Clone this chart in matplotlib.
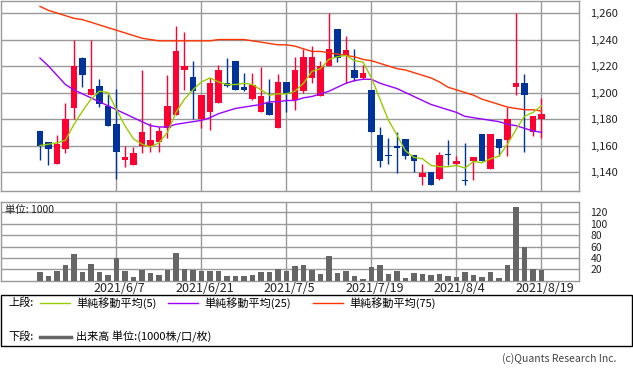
"""Daily candlestick chart with simple moving averages and volume."""
import numpy as np
import matplotlib
matplotlib.use("Agg")
import matplotlib.pyplot as plt
from matplotlib.patches import Rectangle
from matplotlib.ticker import FuncFormatter
from matplotlib.transforms import ScaledTranslation

plt.rcParams["font.family"] = ["Noto Sans CJK JP", "DejaVu Sans"]

# -------------------------------------------------------
# Data.
# -------------------------------------------------------
dates = [
    "2021/5/25", "2021/5/26", "2021/5/27", "2021/5/28", "2021/5/31",
    "2021/6/1", "2021/6/2", "2021/6/3", "2021/6/4", "2021/6/7",
    "2021/6/8", "2021/6/9", "2021/6/10", "2021/6/11", "2021/6/14",
    "2021/6/15", "2021/6/16", "2021/6/17", "2021/6/18", "2021/6/21",
    "2021/6/22", "2021/6/23", "2021/6/24", "2021/6/25", "2021/6/28",
    "2021/6/29", "2021/6/30", "2021/7/1", "2021/7/2", "2021/7/5",
    "2021/7/6", "2021/7/7", "2021/7/8", "2021/7/9", "2021/7/12",
    "2021/7/13", "2021/7/14", "2021/7/15", "2021/7/16", "2021/7/19",
    "2021/7/20", "2021/7/21", "2021/7/26", "2021/7/27", "2021/7/28",
    "2021/7/29", "2021/7/30", "2021/8/2", "2021/8/3", "2021/8/4",
    "2021/8/5", "2021/8/6", "2021/8/10", "2021/8/11", "2021/8/12",
    "2021/8/13", "2021/8/16", "2021/8/17", "2021/8/18", "2021/8/19",
    ]
opens = [
    1171, 1163, 1146, 1157, 1188, 1226, 1198, 1205, 1190, 1176,
    1149, 1145, 1160, 1160, 1163, 1173, 1183, 1217, 1212, 1180,
    1185, 1192, 1207, 1224, 1204, 1195, 1185, 1192, 1173, 1208,
    1194, 1201, 1211, 1197, 1220, 1248, 1228, 1217, 1211, 1202,
    1168, 1152, 1160, 1165, 1153, 1136, 1140, 1135, 1153, 1146,
    1134, 1148, 1169, 1142, 1165, 1164, 1204, 1207, 1170, 1180,
    ]
highs = [
    1171, 1163, 1168, 1192, 1240, 1227, 1240, 1210, 1199, 1203,
    1160, 1159, 1217, 1177, 1174, 1213, 1250, 1246, 1224, 1198,
    1211, 1221, 1226, 1224, 1215, 1215, 1219, 1210, 1214, 1208,
    1227, 1233, 1235, 1224, 1260, 1248, 1243, 1233, 1221, 1202,
    1174, 1166, 1170, 1165, 1153, 1146, 1140, 1155, 1164, 1152,
    1162, 1151, 1169, 1169, 1165, 1189, 1260, 1214, 1182, 1196,
    ]
lows = [
    1149, 1145, 1146, 1154, 1180, 1204, 1198, 1189, 1175, 1135,
    1144, 1145, 1154, 1155, 1155, 1166, 1183, 1202, 1180, 1173,
    1172, 1192, 1204, 1202, 1201, 1194, 1185, 1183, 1173, 1185,
    1187, 1200, 1207, 1197, 1220, 1223, 1207, 1209, 1210, 1170,
    1144, 1146, 1139, 1150, 1140, 1130, 1130, 1134, 1145, 1145,
    1130, 1134, 1148, 1142, 1152, 1152, 1198, 1155, 1167, 1166,
    ]
closes = [
    1160, 1157, 1161, 1180, 1220, 1213, 1203, 1191, 1175, 1155,
    1151, 1154, 1170, 1164, 1171, 1190, 1231, 1220, 1201, 1198,
    1207, 1217, 1205, 1202, 1202, 1206, 1197, 1183, 1208, 1199,
    1217, 1227, 1227, 1220, 1233, 1226, 1232, 1211, 1215, 1170,
    1148, 1152, 1158, 1152, 1148, 1139, 1130, 1153, 1153, 1148,
    1133, 1151, 1148, 1169, 1158, 1180, 1207, 1198, 1182, 1184,
    ]
ma5 = [
    1160, 1161, 1162, 1164, 1176, 1186, 1195, 1201, 1200, 1187,
    1175, 1165, 1161, 1159, 1162, 1170, 1185, 1195, 1202, 1208,
    1211, 1208, 1206, 1206, 1207, 1206, 1202, 1198, 1199, 1199,
    1201, 1207, 1216, 1218, 1225, 1227, 1228, 1224, 1223, 1211,
    1195, 1179, 1168, 1156, 1151, 1150, 1145, 1144, 1144, 1145,
    1143, 1148, 1147, 1150, 1152, 1161, 1172, 1182, 1185, 1190,
    ]
ma25 = [
    1226, 1220, 1213, 1206, 1202, 1199, 1196, 1193, 1190, 1187,
    1184, 1181, 1178, 1175, 1174, 1174, 1176, 1177, 1178, 1179,
    1181, 1184, 1186, 1188, 1189, 1190, 1191, 1193, 1193, 1194,
    1194, 1196, 1197, 1199, 1201, 1204, 1207, 1209, 1210, 1210,
    1207, 1205, 1203, 1200, 1197, 1194, 1191, 1189, 1187, 1185,
    1182, 1181, 1180, 1179, 1178, 1176, 1175, 1173, 1171, 1170,
    ]
ma75 = [
    1265, 1262, 1260, 1258, 1256, 1255, 1253, 1251, 1249, 1247,
    1245, 1243, 1241, 1240, 1239, 1239, 1239, 1239, 1239, 1239,
    1239, 1240, 1240, 1240, 1240, 1239, 1238, 1237, 1236, 1236,
    1235, 1233, 1231, 1231, 1230, 1229, 1228, 1227, 1225, 1224,
    1222, 1220, 1218, 1217, 1215, 1213, 1211, 1208, 1204, 1202,
    1200, 1198, 1195, 1193, 1191, 1189, 1188, 1187, 1187, 1186,
    ]
volumes = [
    16, 8, 17, 27, 46, 16, 29, 16, 10, 40,
    17, 6, 19, 14, 10, 19, 48, 20, 19, 17,
    17, 17, 8, 8, 8, 10, 16, 16, 20, 17,
    26, 27, 19, 12, 43, 14, 17, 8, 3, 24,
    27, 12, 17, 5, 14, 12, 10, 12, 8, 6,
    16, 10, 6, 16, 5, 27, 129, 59, 20, 19,
    ]
price_ticks = [1140, 1160, 1180, 1200, 1220, 1240, 1260]
volume_ticks = [20, 40, 60, 80, 100, 120]
date_ticks = ["2021/6/7", "2021/6/21", "2021/7/5", "2021/7/19", "2021/8/4", "2021/8/19"]

# -------------------------------------------------------
# Styles.
# -------------------------------------------------------
up_color = "#ff0033"
down_color = "#003399"
grid_color = "#999999"
vol_color = "#666666"
ma_styles = [
    (ma5, "#99cc00", "単純移動平均(5)"),
    (ma25, "#9900ff", "単純移動平均(25)"),
    (ma75, "#ff3300", "単純移動平均(75)"),
    ]

W, H = 633, 373
fig = plt.figure(figsize=(W/100, H/100), dpi=100)

def px_axes(x0, y0, x1, y1):
    # axes placed by pixel box (top-left origin)
    return fig.add_axes([x0/W, 1-y1/H, (x1-x0)/W, (y1-y0)/H])

x = np.arange(len(dates))
o = np.array(opens); c = np.array(closes)
colors = [up_color if cc > oo else down_color for oo, cc in zip(o, c)]
xlim = (-4.62, 63.45)
tick_pos = [dates.index(d) for d in date_ticks]

def style_axes(ax):
    for s in ax.spines.values():
        s.set_color(grid_color)
        s.set_linewidth(1)
    ax.set_xlim(*xlim)
    ax.set_xticks(tick_pos)
    ax.grid(True, color=grid_color, linewidth=1)
    ax.set_axisbelow(True)
    ax.tick_params(length=0)

# -------------------------------------------------------
# Price panel.
# -------------------------------------------------------
ax = px_axes(0.7, 0.7, 579.3, 190.7)
style_axes(ax)
ax.set_ylim(1125.9, 1269.3)
ax.vlines(x, lows, highs, colors=colors, linewidth=1)
body_h = np.maximum(np.abs(c - o), 0.8)
ax.bar(x, body_h, bottom=np.minimum(o, c), width=0.72, color=colors, linewidth=0, zorder=3)
for vals, col, lab in ma_styles[::-1]:
    ax.plot(x, vals, color=col, linewidth=1, zorder=4)
ax.set_yticks(price_ticks)
ax.yaxis.set_major_formatter(FuncFormatter(lambda v, p: f"{v:,.0f}"))
ax.yaxis.tick_right()
ax.tick_params(axis="y", labelsize=8, pad=8, labelcolor="#222222")
ax.set_xticklabels([])

# -------------------------------------------------------
# Volume panel.
# -------------------------------------------------------
axv = px_axes(0.7, 201.7, 579.3, 280.7)
style_axes(axv)
axv.bar(x, volumes, width=0.68, color=vol_color, linewidth=0, zorder=3)
axv.set_ylim(0, 138.6)
axv.set_yticks(volume_ticks)
axv.yaxis.tick_right()
axv.tick_params(axis="y", labelsize=7.5, pad=8, labelcolor="#222222")
axv.set_xticklabels(date_ticks, fontsize=9, color="#222222")
axv.tick_params(axis="x", pad=1)
shift = ScaledTranslation(3/100, 0, fig.dpi_scale_trans)
for lab in axv.get_xticklabels():
    lab.set_transform(lab.get_transform() + shift)
axv.text(0.008, 0.9, "単位: 1000", transform=axv.transAxes, fontsize=7.5,
         ha="left", va="center", color="#222222")

# -------------------------------------------------------
# Legend box and credit.
# -------------------------------------------------------
leg = fig.add_axes([0, 0, 1, 1])
leg.set_xlim(0, W)
leg.set_ylim(H, 0)
leg.axis("off")
leg.add_patch(Rectangle((0.5, 295.3), 631.5, 50.7, fill=False, edgecolor="black", linewidth=1))
leg.text(8, 302.7, "上段:", fontsize=8, va="center", ha="left")
for (vals, col, lab), lx in zip(ma_styles, [40, 168, 313]):
    leg.plot([lx, lx+30], [302.7, 302.7], color=col, linewidth=1)
    leg.text(lx+36, 302.7, lab, fontsize=8, va="center", ha="left")
leg.text(8, 336.7, "下段:", fontsize=8, va="center", ha="left")
leg.plot([40, 70.7], [336.7, 336.7], color=vol_color, linewidth=2.5)
leg.text(76, 336.7, "出来高 単位:(1000株/口/枚)", fontsize=8, va="center", ha="left")
leg.text(616, 359, "(c)Quants Research Inc.", fontsize=7.5, va="center", ha="right", color="#444444")

fig.savefig("out.png", dpi=100)
